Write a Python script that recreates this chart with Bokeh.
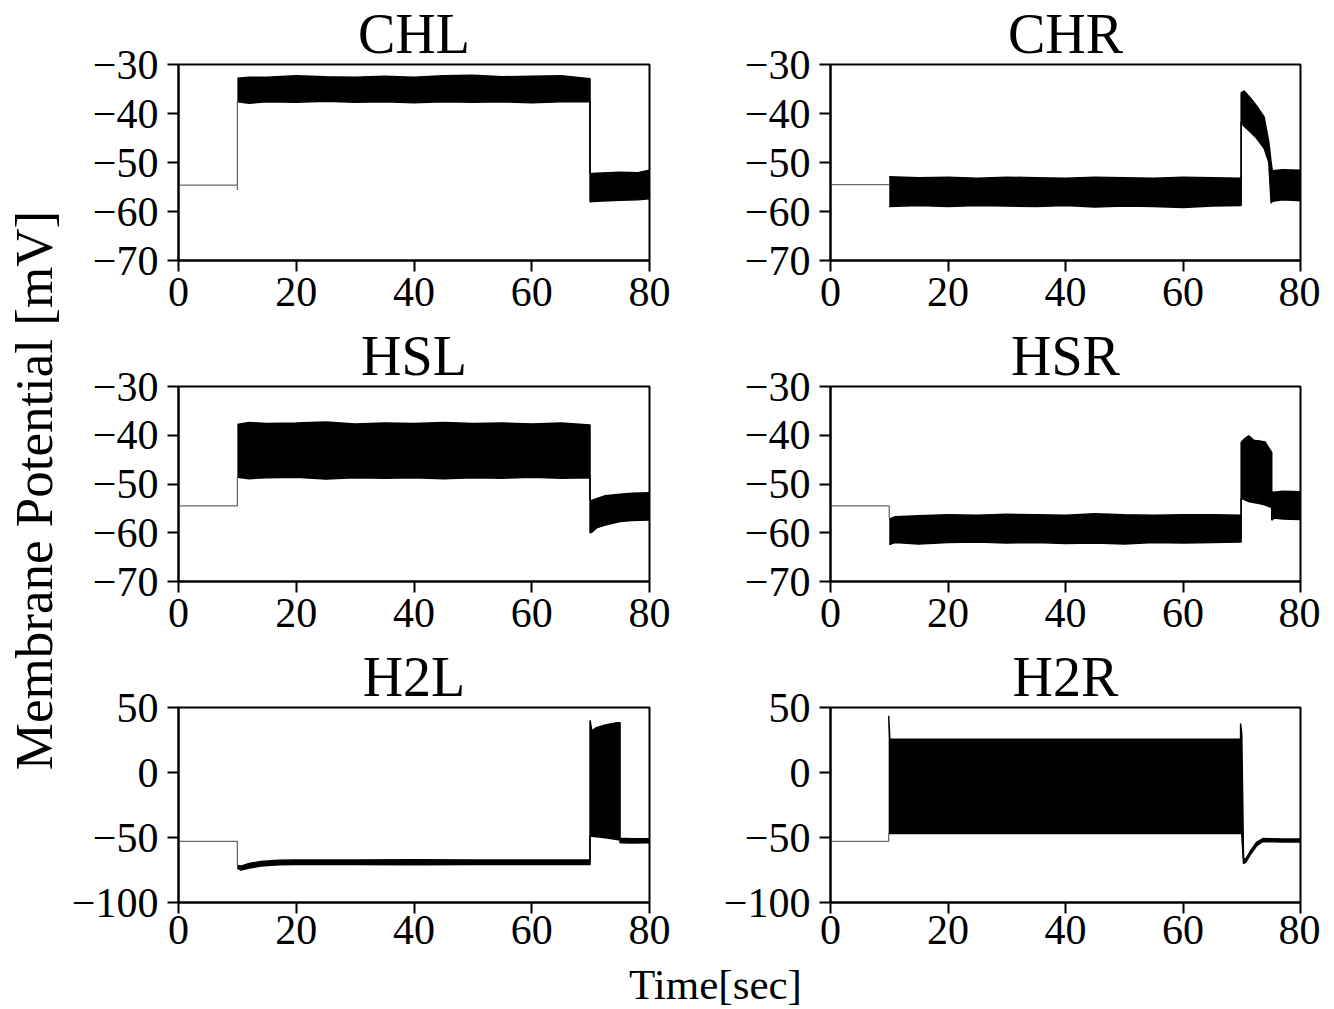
from math import pi
from bokeh.plotting import figure
from bokeh.layouts import row, column
from bokeh.models import Range1d, FixedTicker, Label
from bokeh.embed import file_html
from bokeh.resources import INLINE

FONT = "Liberation Serif"

titles = ["CHL", "CHR", "HSL", "HSR", "H2L", "H2R"]
x_ticks = [0, 20, 40, 60, 80]
x_tick_labels = ["0", "20", "40", "60", "80"]
y_ticks_small = [-70, -60, -50, -40, -30]
y_tick_labels_small = ["\u221270", "\u221260", "\u221250", "\u221240", "\u221230"]
y_ticks_h2 = [-100, -50, 0, 50]
y_tick_labels_h2 = ["\u2212100", "\u221250", "0", "50"]
x_label = "Time[sec]"
y_label = "Membrane Potential [mV]"

# ---- CHL ----
chl_base_t = [0, 10, 10, 10]
chl_base_v = [-54.6, -54.6, -55.6, -37.6]
chl_t  = [10, 12, 15, 20, 25, 30, 35, 40, 45, 50, 55, 60, 65, 69.9, 69.9, 71, 75, 78, 80]
chl_hi = [-32.8, -32.6, -32.6, -32.3, -32.5, -32.6, -32.4, -32.6, -32.3, -32.2, -32.5, -32.4, -32.3, -32.9,
          -52.3, -52.2, -52.0, -52.1, -51.6]
chl_lo = [-37.6, -37.9, -37.6, -37.7, -37.5, -37.7, -37.6, -37.8, -37.6, -37.7, -37.6, -37.8, -37.6, -37.6,
          -58.0, -57.9, -57.7, -57.6, -57.4]

# ---- CHR ----
chr_base_t = [0, 10]
chr_base_v = [-54.5, -54.5]
chr_t  = [10, 15, 20, 25, 30, 35, 40, 45, 50, 55, 60, 65, 69.9, 69.9, 70.4, 71.5, 72.5, 73.8, 74.6, 75.0, 75.2, 77, 80]
chr_hi = [-52.9, -53.1, -53.0, -53.2, -53.0, -53.1, -53.2, -53.0, -53.1, -53.2, -53.0, -53.1, -53.2,
          -35.8, -35.4, -36.9, -38.4, -40.7, -45.8, -50.0, -51.7, -51.5, -51.6]
chr_lo = [-59.0, -58.8, -59.0, -58.8, -58.9, -59.0, -58.8, -59.1, -58.9, -59.0, -59.2, -58.9, -58.8,
          -41.7, -42.6, -43.8, -45.0, -47.1, -49.9, -58.3, -57.9, -57.6, -57.8]

# ---- HSL ----
hsl_base_t = [0, 10, 10]
hsl_base_v = [-54.5, -54.5, -48.8]
hsl_t  = [10, 12, 15, 20, 25, 30, 35, 40, 45, 50, 55, 60, 65, 69.9, 69.9, 70.3, 71, 72.5, 75, 77, 80]
hsl_hi = [-37.8, -37.4, -37.6, -37.5, -37.3, -37.7, -37.5, -37.6, -37.4, -37.6, -37.5, -37.7, -37.5, -37.9,
          -53.5, -53.3, -53.0, -52.4, -52.1, -51.9, -51.8]
hsl_lo = [-48.6, -48.9, -48.7, -48.6, -49.0, -48.7, -48.8, -48.7, -48.9, -48.7, -48.8, -48.6, -48.8, -48.7,
          -60.0, -59.8, -59.0, -58.4, -57.7, -57.5, -57.4]

# ---- HSR ----
hsr_base_t = [0, 10, 10]
hsr_base_v = [-54.5, -54.5, -57.0]
hsr_t  = [10, 11, 15, 20, 25, 30, 35, 40, 45, 50, 55, 60, 65, 69.9, 69.9, 70.4, 71.2, 72, 73, 74, 74.6, 75.1,
          75.1, 75.5, 77, 80]
hsr_hi = [-57.2, -56.7, -56.5, -56.3, -56.4, -56.2, -56.3, -56.4, -56.1, -56.3, -56.4, -56.3, -56.3, -56.4,
          -41.5, -40.8, -40.1, -41.0, -41.2, -41.4, -42.6, -43.5, -51.6, -51.7, -51.5, -51.6]
hsr_lo = [-62.4, -62.0, -62.3, -62.0, -61.9, -62.1, -62.0, -62.2, -62.1, -62.3, -62.0, -62.1, -62.0, -61.9,
          -52.9, -53.2, -53.6, -53.8, -54.0, -54.3, -54.6, -54.8, -57.4, -57.0, -57.2, -57.3]

# ---- H2L ----
h2l_base_t = [0, 10, 10]
h2l_base_v = [-53.0, -53.0, -71.5]
h2l_t  = [10, 10.6, 12, 14, 17, 20, 30, 40, 50, 60, 69.9, 69.9, 70.2, 71, 72.5, 74.5, 75.0, 75.0, 77, 80]
h2l_hi = [-71.5, -72.0, -70.0, -68.5, -67.5, -67.3, -67.3, -67.2, -67.3, -67.3, -67.3,
          40.0, 32.0, 34.5, 36.5, 38.3, 38.3, -50.5, -51.0, -51.0]
h2l_lo = [-73.5, -75.0, -73.5, -72.0, -71.0, -70.8, -70.8, -70.9, -70.8, -70.8, -70.8,
          -48.7, -49.0, -49.5, -50.2, -51.5, -52.0, -54.0, -54.2, -54.0]

# ---- H2R ----
h2r_base_t = [0, 9.9, 9.9]
h2r_base_v = [-53.0, -53.0, -47.0]
h2r_t  = [9.9, 10.1, 20, 30, 40, 50, 60, 69.8, 69.8, 70.0, 70.3, 70.7, 71.4, 72.5, 73.6, 75, 77, 80]
h2r_hi = [43.6, 25.6, 25.6, 25.6, 25.6, 25.6, 25.6, 25.6, 37.7, 30.0,
          -66.0, -66.5, -61.0, -53.8, -50.8, -50.9, -51.2, -51.2]
h2r_lo = [-47.0, -47.0, -46.9, -46.9, -46.9, -46.9, -46.9, -46.9, -46.9, -47.0,
          -70.0, -69.0, -63.5, -56.5, -53.0, -53.3, -53.5, -53.5]

panels = [
    (chl_base_t, chl_base_v, chl_t, chl_hi, chl_lo),
    (chr_base_t, chr_base_v, chr_t, chr_hi, chr_lo),
    (hsl_base_t, hsl_base_v, hsl_t, hsl_hi, hsl_lo),
    (hsr_base_t, hsr_base_v, hsr_t, hsr_hi, hsr_lo),
    (h2l_base_t, h2l_base_v, h2l_t, h2l_hi, h2l_lo),
    (h2r_base_t, h2r_base_v, h2r_t, h2r_hi, h2r_lo),
]

# layout geometry (pixels)
FRAME_W = [471, 470]
FRAME_H = [196, 195, 195]
BORDER_L = [110, 110]
BORDER_R = [71, 20]
BORDER_T = [64, 64, 64]
BORDER_B = [62, 62, 58]
X_STANDOFF = [6, 6, 2]
YLAB_W = 68
XLAB_H = 48


def make_panel(i):
    r, c = divmod(i, 2)
    base_t, base_v, bt, bhi, blo = panels[i]
    if r < 2:
        yr = (-70, -30)
        yt, yl = y_ticks_small, y_tick_labels_small
    else:
        yr = (-100, 50)
        yt, yl = y_ticks_h2, y_tick_labels_h2
    p = figure(frame_width=FRAME_W[c], frame_height=FRAME_H[r],
               x_range=Range1d(0, 80), y_range=Range1d(*yr),
               min_border_left=BORDER_L[c], min_border_right=BORDER_R[c],
               min_border_top=BORDER_T[r], min_border_bottom=BORDER_B[r],
               output_backend="svg", toolbar_location=None,
               background_fill_color="white", border_fill_color="white")
    p.title.text = titles[i]
    p.title.align = "center"
    p.title.text_font = FONT
    p.title.text_font_size = "56px"
    p.title.text_font_style = "normal"
    p.title.text_color = "black"
    p.title.standoff = 0

    p.xgrid.visible = False
    p.ygrid.visible = False
    p.outline_line_color = "black"
    p.outline_line_width = 2
    p.outline_line_alpha = 1

    p.xaxis.ticker = FixedTicker(ticks=x_ticks)
    p.xaxis.major_label_overrides = {t: s for t, s in zip(x_ticks, x_tick_labels)}
    p.yaxis.ticker = FixedTicker(ticks=yt)
    p.yaxis.major_label_overrides = {t: s for t, s in zip(yt, yl)}
    for ax in (p.xaxis, p.yaxis):
        ax.axis_line_width = 2
        ax.axis_line_color = "black"
        ax.major_tick_line_width = 2
        ax.major_tick_line_color = "black"
        ax.major_tick_out = 11
        ax.major_tick_in = 0
        ax.minor_tick_line_color = None
        ax.major_label_text_font = FONT
        ax.major_label_text_font_size = "42px"
        ax.major_label_text_color = "black"
    p.xaxis.major_label_standoff = X_STANDOFF[r]
    p.yaxis.major_label_standoff = 9

    p.varea(x=bt, y1=blo, y2=bhi, fill_color="black", fill_alpha=1)
    p.line(bt, bhi, line_color="black", line_width=1.5)
    p.line(bt, blo, line_color="black", line_width=1.5)
    p.line(base_t, base_v, line_color="#6b6b6b", line_width=1.3)
    return p


figs = [make_panel(i) for i in range(6)]

total_w = sum(BORDER_L) + sum(FRAME_W) + sum(BORDER_R)
total_h = sum(FRAME_H) + sum(BORDER_T) + sum(BORDER_B)


def blank(w, h):
    f = figure(frame_width=w, frame_height=h, x_range=Range1d(0, w), y_range=Range1d(0, h),
               min_border=0, min_border_top=0, min_border_bottom=0,
               min_border_left=0, min_border_right=0,
               output_backend="svg", toolbar_location=None,
               background_fill_color="white", border_fill_color="white")
    f.title.visible = False
    f.axis.visible = False
    f.grid.visible = False
    f.outline_line_color = None
    return f


xlab = blank(total_w, XLAB_H)
xlab.add_layout(Label(x=715 - YLAB_W, y=XLAB_H / 2, text=x_label, text_font=FONT, text_font_size="43px",
                      text_color="black", text_align="center", text_baseline="middle"))

ylab = blank(YLAB_W, total_h + XLAB_H)
ylab.add_layout(Label(x=33, y=total_h + XLAB_H - 490, text=y_label, text_font=FONT,
                      text_font_size="53px", text_color="black", text_align="center",
                      text_baseline="middle", angle=pi / 2))

grid = column(row(figs[0], figs[1]), row(figs[2], figs[3]), row(figs[4], figs[5]), xlab)
page = row(ylab, grid)

open("out.html", "w").write(file_html(page, INLINE))
